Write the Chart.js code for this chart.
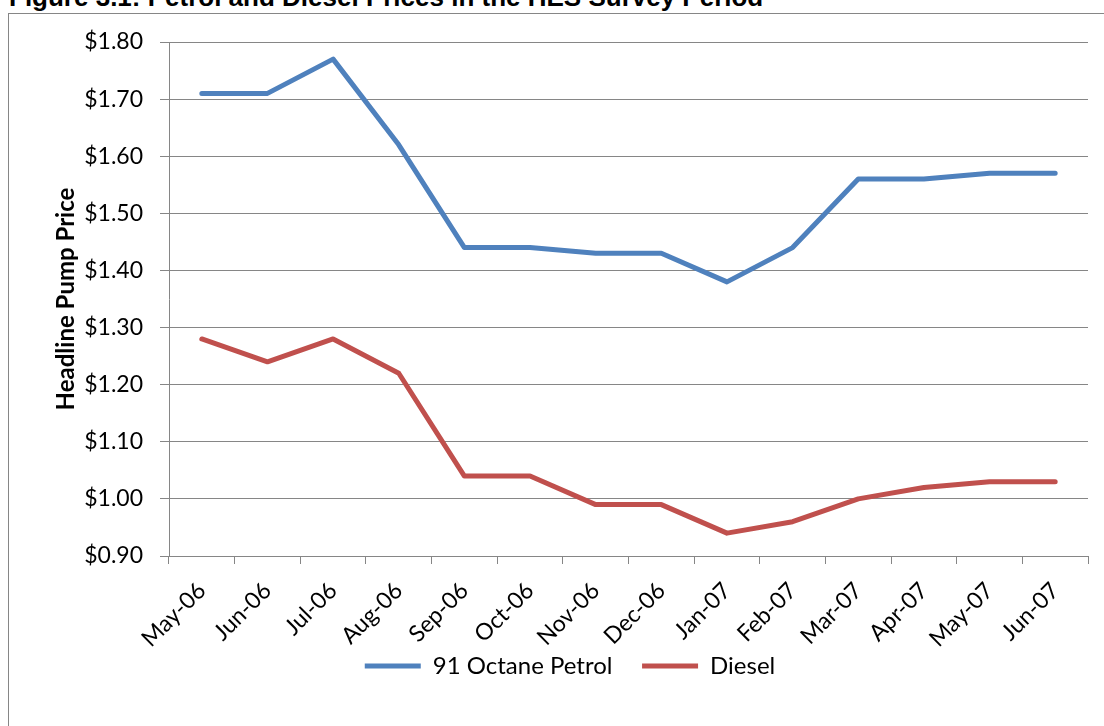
<!DOCTYPE html>
<html>
<head>
<meta charset="utf-8">
<script src="https://cdn.jsdelivr.net/npm/chart.js@4.4.1/dist/chart.umd.min.js"></script>
<style>
  html, body { margin: 0; padding: 0; background: #fff; overflow: hidden; }
  body { width: 1104px; height: 726px; position: relative; }
  #title { position: absolute; left: 9px; top: -16px; font: bold 26px "Liberation Sans", Arial, sans-serif; line-height: 26px; white-space: nowrap; }
  #frame { position: absolute; left: 8px; top: 13px; width: 1200px; height: 800px; border: 1px solid #868686; }
  #wrap { position: absolute; left: 0; top: 0; width: 1104px; height: 726px; }
</style>
</head>
<body>
<div id="title">Figure 3.1: Petrol and Diesel Prices in the HES Survey Period</div>
<div id="frame"></div>
<div id="wrap"><canvas id="myChart"></canvas></div>
<script>
// data
const months = ["May-06", "Jun-06", "Jul-06", "Aug-06", "Sep-06", "Oct-06", "Nov-06",
  "Dec-06", "Jan-07", "Feb-07", "Mar-07", "Apr-07", "May-07", "Jun-07"];
const petrol = [1.71, 1.71, 1.77, 1.62, 1.44, 1.44, 1.43, 1.43, 1.38, 1.44, 1.56, 1.56, 1.57, 1.57];
const diesel = [1.28, 1.24, 1.28, 1.22, 1.04, 1.04, 0.99, 0.99, 0.94, 0.96, 1.00, 1.02, 1.03, 1.03];
const yMin = 0.9;
const yMax = 1.8;
const yStep = 0.1;

const gridGrey = "#868686";
const font = "Lato";

let canvas = document.getElementById("myChart");
let ctx = canvas.getContext("2d");
const myChart = new Chart(ctx, {
  type: "line",
  data: {
    labels: months,
    datasets: [
      {
        label: "91 Octane Petrol",
        data: petrol,
        borderColor: "#4F81BD",
        backgroundColor: "#4F81BD",
        borderWidth: 5,
        borderCapStyle: "round",
        borderJoinStyle: "round",
        pointRadius: 0,
        tension: 0,
      },
      {
        label: "Diesel",
        data: diesel,
        borderColor: "#C0504D",
        backgroundColor: "#C0504D",
        borderWidth: 5,
        borderCapStyle: "round",
        borderJoinStyle: "round",
        pointRadius: 0,
        tension: 0,
      },
    ],
  },
  options: {
    responsive: true,
    maintainAspectRatio: false,
    animation: false,
    layout: {
      padding: { left: 52, right: 16, top: 42, bottom: 38 },
    },
    plugins: {
      title: { display: false },
      tooltip: { enabled: false },
      legend: {
        position: "bottom",
        labels: {
          usePointStyle: true,
          pointStyle: "line",
          pointStyleWidth: 56,
          color: "#000",
          font: { family: font, size: 24 },
          padding: 5,
          // small padding keeps the legend close to the axis; widen the gap between items by hand
          generateLabels: (chart) => {
            const items = Chart.defaults.plugins.legend.labels.generateLabels(chart);
            items.forEach((it, i) => {
              if (i < items.length - 1) it.text = it.text + "    ";
            });
            return items;
          },
        },
      },
    },
    scales: {
      x: {
        offset: true,
        grid: {
          offset: true,
          drawOnChartArea: false,
          color: gridGrey,
          tickLength: 8,
        },
        border: { display: true, color: gridGrey, width: 1 },
        ticks: {
          color: "#000",
          font: { family: font, size: 23 },
          minRotation: 45,
          maxRotation: 45,
          padding: 13,
        },
        afterFit: (scale) => { scale.height = 93; },
      },
      y: {
        min: yMin,
        max: yMax,
        grid: { color: gridGrey, tickLength: 9 },
        border: { display: true, color: gridGrey, width: 1 },
        ticks: {
          stepSize: yStep,
          color: "#000",
          font: { family: font, size: 23 },
          padding: 17,
          callback: (v) => "$" + Number(v).toFixed(2),
        },
        title: {
          display: true,
          text: "Headline Pump Price",
          color: "#000",
          font: { family: font, size: 24, weight: "bold" },
          padding: { top: 0, bottom: 4 },
        },
        afterFit: (scale) => { scale.width = 117; },
      },
    },
  },
});
</script>
</body>
</html>
